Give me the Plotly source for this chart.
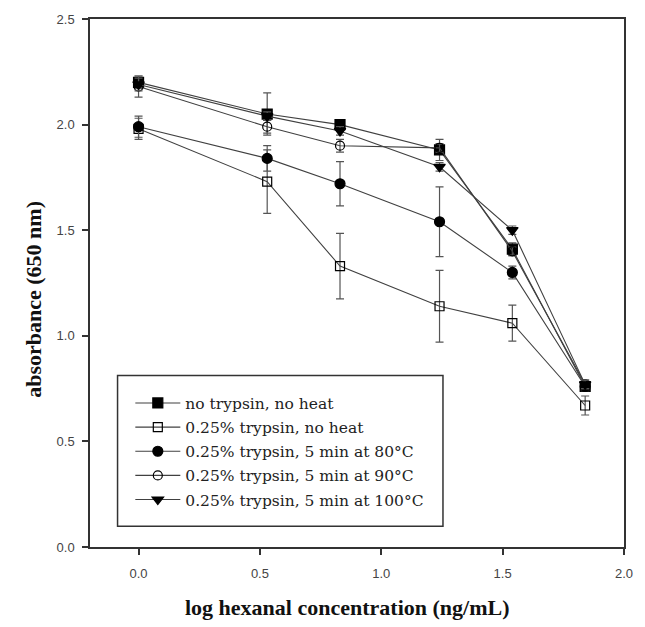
import plotly.graph_objects as go

x_vals = [0.0, 0.53, 0.83, 1.24, 1.54, 1.84]

names = [
    "no trypsin, no heat",
    "0.25% trypsin, no heat",
    "0.25% trypsin, 5 min at 80°C",
    "0.25% trypsin, 5 min at 90°C",
    "0.25% trypsin, 5 min at 100°C",
]

y_no_trypsin = [2.20, 2.05, 2.00, 1.88, 1.41, 0.76]
e_no_trypsin = [0.03, 0.10, 0.02, 0.05, 0.03, 0.02]

y_trypsin_noheat = [1.98, 1.73, 1.33, 1.14, 1.06, 0.67]
e_trypsin_noheat = [0.05, 0.15, 0.155, 0.17, 0.085, 0.045]

y_80 = [1.99, 1.84, 1.72, 1.54, 1.30, 0.76]
e_80 = [0.05, 0.06, 0.105, 0.165, 0.03, 0.02]

y_90 = [2.18, 1.99, 1.90, 1.89, 1.40, 0.77]
e_90 = [0.05, 0.03, 0.03, 0.02, 0.02, 0.02]

y_100 = [2.19, 2.04, 1.97, 1.80, 1.50, 0.77]
e_100 = [0.03, 0.02, 0.02, 0.02, 0.02, 0.02]

series_y = [y_no_trypsin, y_trypsin_noheat, y_80, y_90, y_100]
series_e = [e_no_trypsin, e_trypsin_noheat, e_80, e_90, e_100]
symbols = ["square", "square-open", "circle", "circle-open", "triangle-down"]

x_ticks = [0.0, 0.5, 1.0, 1.5, 2.0]
y_ticks = [0.0, 0.5, 1.0, 1.5, 2.0, 2.5]

x_title = "log hexanal concentration (ng/mL)"
y_title = "absorbance (650 nm)"

fig = go.Figure()
for i, (nm, ys, es, sym) in enumerate(zip(names, series_y, series_e, symbols)):
    fig.add_trace(go.Scatter(
        x=x_vals, y=ys, name=nm, mode="lines+markers",
        legendgroup=f"g{i}",
        line=dict(color="#404040", width=1.1),
        marker=dict(symbol=sym, size=10 if "open" not in sym else 9,
                    color="black", line=dict(color="black", width=1.2)),
        error_y=dict(type="data", array=es, visible=True,
                     color="#555555", thickness=1.2, width=4),
    ))

axis_common = dict(
    showline=True, linecolor="#333333", linewidth=1.5, mirror=True,
    ticks="outside", ticklen=6, tickcolor="#333333", tickwidth=1.5,
    showgrid=False, zeroline=False,
    tickfont=dict(family="Liberation Sans, Arial, sans-serif", size=13, color="#444444"),
    tickformat=".1f",
)

title_font = dict(family="Liberation Serif, Times New Roman, serif", size=22,
                  color="#111111", weight="bold")

fig.update_layout(
    width=645, height=627,
    margin=dict(l=90, r=12, t=15, b=80),
    plot_bgcolor="white", paper_bgcolor="white",
    xaxis=dict(range=[-0.2, 2.0], tickvals=x_ticks, ticklabelstandoff=8, **axis_common),
    yaxis=dict(range=[0.0, 2.5], tickvals=y_ticks, ticklabelstandoff=5, **axis_common),
    showlegend=True,
    legend=dict(
        x=0.0755, y=0.058, xanchor="left", yanchor="bottom",
        bgcolor="rgba(0,0,0,0)", borderwidth=0,
        font=dict(family="DejaVu Serif, serif", size=15.5, color="#222222"),
        tracegroupgap=1, itemwidth=45,
    ),
    shapes=[
        dict(type="rect", xref="paper", yref="paper",
             x0=0.0516, x1=0.661, y0=0.0395, y1=0.325,
             line=dict(color="#333333", width=1.5), fillcolor="white", layer="above"),
    ],
    annotations=[
        dict(text=x_title, xref="paper", yref="paper", x=0.4825, y=-0.115,
             xanchor="center", yanchor="middle", showarrow=False, font=title_font),
        dict(text=y_title, xref="paper", yref="paper", x=-0.105, y=0.47,
             xanchor="center", yanchor="middle", showarrow=False, textangle=-90,
             font=title_font),
    ],
)

fig.write_html("out.html")
